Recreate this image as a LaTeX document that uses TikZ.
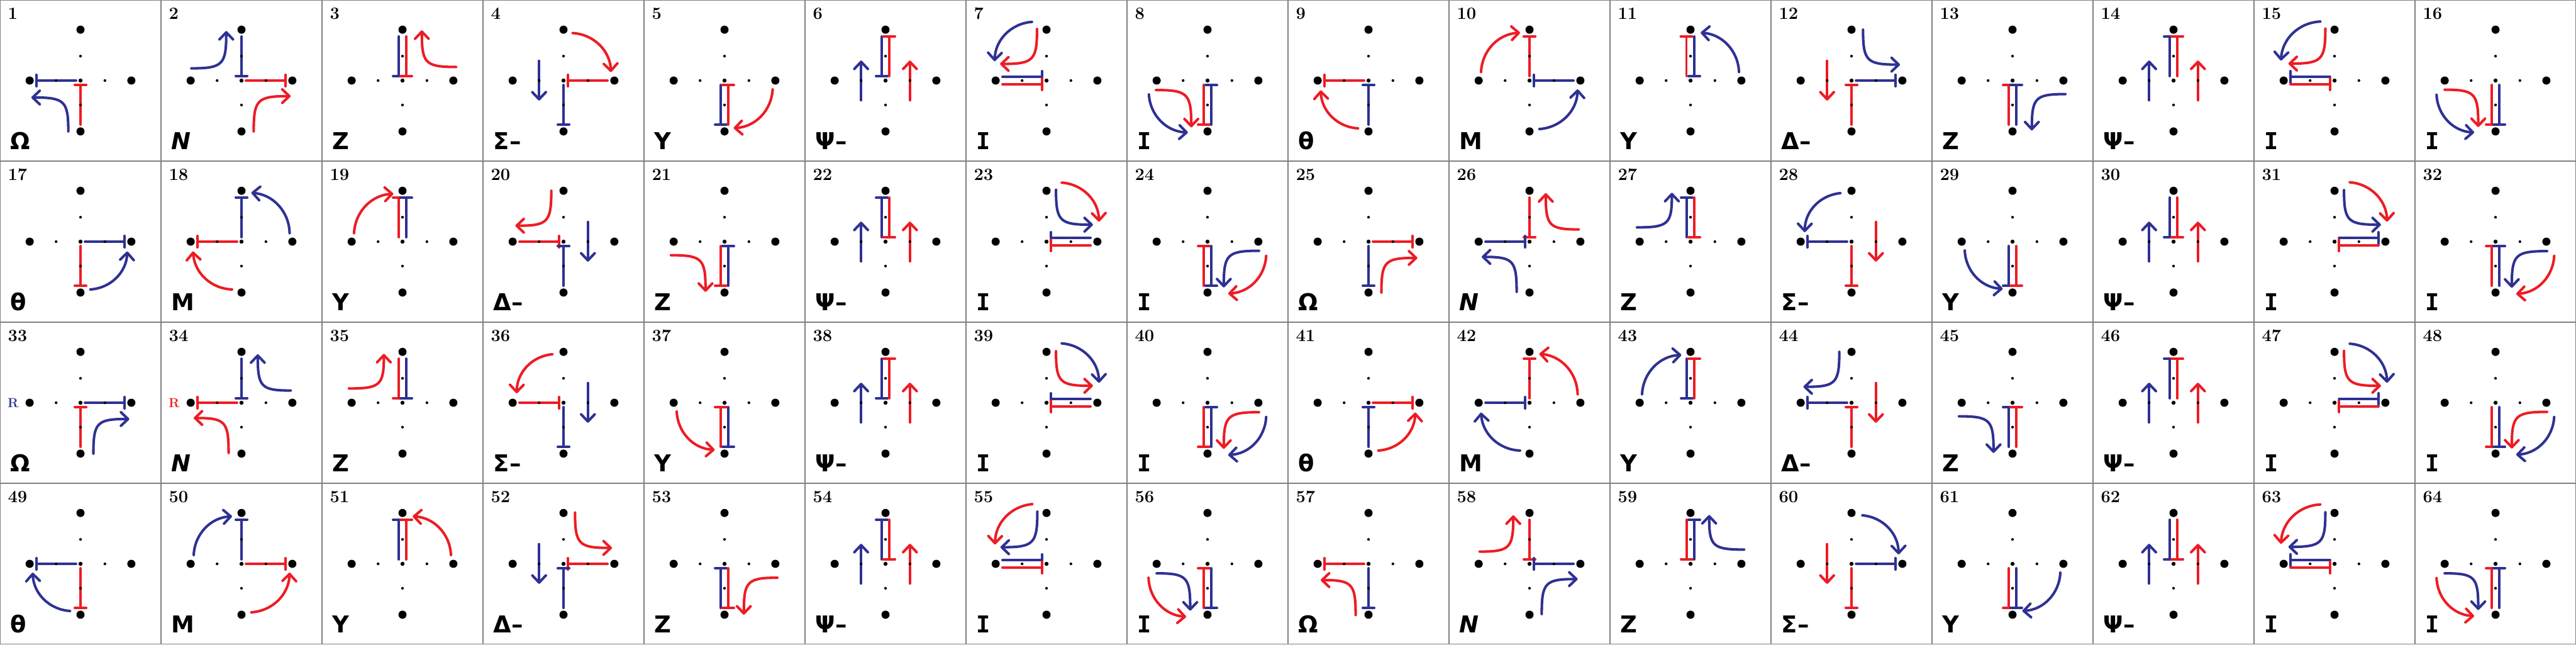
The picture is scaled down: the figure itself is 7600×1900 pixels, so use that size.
\documentclass[tikz,border=0pt]{standalone}
\usepackage{fontspec}
\usetikzlibrary{arrows.meta,calc}
\newfontfamily\lblfont{DejaVu Sans}
\newfontfamily\lblmono{DejaVu Sans Mono}
\definecolor{cb}{RGB}{46,49,146}
\definecolor{cr}{RGB}{237,28,36}
\tikzset{
  barline/.style={line width=0.07cm, line cap=round},
  arr/.style={line width=0.075cm, line cap=round, -{Straight Barb[length=0.21cm,width=0.40cm,round]}},
  numsty/.style={inner sep=0pt, font=\fontsize{14.4}{16}\selectfont\bfseries},
  lblsty/.style={inner sep=0pt, font=\lblfont\bfseries\fontsize{19.5}{22}\selectfont},
  rsty/.style={inner sep=0pt, font=\bfseries\fontsize{11}{12}\selectfont},
  gridline/.style={draw=gray, line width=0.025cm}
}
% bars: T-end at the last coordinate
\newcommand\vbr[4]{\draw[barline,#1] (#2,#3) -- (#2,#4);
  \draw[barline,#1] ({#2-17},#4) -- ({#2+17},#4);}
\newcommand\hbr[4]{\draw[barline,#1] (#3,#2) -- (#4,#2);
  \draw[barline,#1] (#4,{#2-17}) -- (#4,{#2+17});}
\newcommand\bNc[2]{\vbr{#1}{#2}{130}{13}}
\newcommand\bNo[2]{\vbr{#1}{#2}{13}{130}}
\newcommand\bSc[2]{\vbr{#1}{#2}{-130}{-13}}
\newcommand\bSo[2]{\vbr{#1}{#2}{-13}{-130}}
\newcommand\bEc[2]{\hbr{#1}{#2}{130}{13}}
\newcommand\bEo[2]{\hbr{#1}{#2}{13}{130}}
\newcommand\bWc[2]{\hbr{#1}{#2}{-130}{-13}}
\newcommand\bWo[2]{\hbr{#1}{#2}{-13}{-130}}
% straight arrows
\newcommand\stU[2]{\draw[arr,#1] (#2,-58) -- (#2,59);}
\newcommand\stD[2]{\draw[arr,#1] (#2,58) -- (#2,-59);}
% turn arrows
\newcommand\tuV[5]{\draw[arr,#1] (#2,#3) .. controls ($(#2,#3)!0.9!(#2,#5)$) and ($(#4,#5)!0.9!(#2,#5)$) .. (#4,#5);}
\newcommand\tuH[5]{\draw[arr,#1] (#2,#3) .. controls ($(#2,#3)!0.9!(#4,#3)$) and ($(#4,#5)!0.9!(#4,#3)$) .. (#4,#5);}
% arc arrows
\newcommand\arL[5]{\draw[arr,#1] (#2,#3) to[bend left=42] (#4,#5);}
\newcommand\arR[5]{\draw[arr,#1] (#2,#3) to[bend right=42] (#4,#5);}
\newcommand\dotset{%
  \fill (0,0) circle (6);
  \foreach \p in {(72,0),(-72,0),(0,72),(0,-72)} \fill \p circle (4);
  \foreach \p in {(150,0),(-150,0),(0,150),(0,-150)} \fill \p circle (12);}
\newcommand\cell[3]{%
  \pgfmathsetmacro\cx{475*mod(#1-1,16)+237.5}%
  \pgfmathsetmacro\cy{-(475*floor((#1-1)/16)+237.5)}%
  \begin{scope}[shift={(\cx,\cy)}]
    #3
    \dotset
    \node[numsty,anchor=base west] (n#1) at (-215,181) {\oldstylenums{#1}};
    \node[lblsty,anchor=base west] (t#1) at (-207,-203) {#2};
  \end{scope}}
\newcommand\Ilab{{\lblmono I}}
\begin{document}
\begin{tikzpicture}[x=0.01cm,y=0.01cm]
\useasboundingbox (0,0) rectangle (7600,-1900);
\fill[white] (0,0) rectangle (7600,-1900);
\foreach \i in {1,...,15} \draw[gridline] (475*\i,0) -- (475*\i,-1900);
\foreach \j in {1,2,3} \draw[gridline] (0,-475*\j) -- (7600,-475*\j);
\draw[gridline] (1.25,-1.25) rectangle (7598.75,-1898.75);
% row 1
\cell{1}{Ω}{\bWo{cb}{0}\bSc{cr}{0}\tuV{cb}{-36}{-150}{-145}{-50}}
\cell{2}{\itshape N}{\bNc{cb}{0}\bEo{cr}{0}\tuH{cb}{-148}{36}{-45}{146}\tuV{cr}{36}{-150}{145}{-46}}
\cell{3}{Z}{\bNc{cb}{-11}\bNc{cr}{11}\tuH{cr}{158}{40}{57}{148}}
\cell{4}{Σ–}{\bEc{cr}{0}\bSo{cb}{0}\arL{cr}{27}{140}{140}{25}\stD{cb}{-72}}
\cell{5}{Y}{\bSo{cb}{-11}\bSc{cr}{11}\arL{cr}{142}{-26}{27}{-140}}
\cell{6}{Ψ–}{\bNc{cb}{-11}\bNo{cr}{11}\stU{cb}{-72}\stU{cr}{72}}
\cell{7}{\Ilab}{\bWc{cb}{11}\bWc{cr}{-11}\arR{cb}{-43}{173}{-153}{57}\tuV{cr}{-28}{152}{-137}{49}}
\cell{8}{\Ilab}{\bSo{cr}{-11}\bSc{cb}{11}\tuH{cr}{-152}{-28}{-48}{-138}\arR{cb}{-173}{-41}{-58}{-153}}
\cell{9}{θ}{\bWo{cr}{0}\bSc{cb}{0}\arL{cr}{-31}{-141}{-141}{-29}}
\cell{10}{M}{\bNo{cr}{0}\bEc{cb}{0}\arL{cr}{-143}{25}{-28}{141}\arR{cb}{29}{-143}{142}{-26}}
\cell{11}{Y}{\bNo{cr}{-12}\bNc{cb}{11}\arR{cb}{143}{25}{30}{141}}
\cell{12}{Δ–}{\bEo{cb}{0}\bSc{cr}{0}\tuV{cb}{34}{150}{143}{47}\stD{cr}{-72}}
\cell{13}{Z}{\bSc{cr}{-11}\bSc{cb}{11}\tuH{cb}{156}{-40}{57}{-147}}
\cell{14}{Ψ–}{\bNo{cb}{-11}\bNo{cr}{11}\stU{cb}{-72}\stU{cr}{72}}
\cell{15}{\Ilab}{\bWo{cb}{11}\bWc{cr}{-11}\arR{cb}{-42}{174}{-158}{59}\tuV{cr}{-27}{153}{-136}{50}}
\cell{16}{\Ilab}{\bSo{cr}{-11}\bSo{cb}{11}\tuH{cr}{-150}{-27}{-51}{-137}\arR{cb}{-174}{-42}{-63}{-153}}
% row 2
\cell{17}{θ}{\bEo{cb}{0}\bSo{cr}{0}\arR{cb}{29}{-141}{138}{-29}}
\cell{18}{M}{\bNo{cb}{0}\bWo{cr}{0}\arR{cb}{142}{25}{29}{144}\arL{cr}{-28}{-141}{-143}{-29}}
\cell{19}{Y}{\bNo{cr}{-11}\bNo{cb}{11}\arL{cr}{-143}{25}{-27}{141}}
\cell{20}{Δ–}{\bWc{cr}{0}\bSc{cb}{0}\tuV{cr}{-36}{150}{-142}{47}\stD{cb}{72}}
\cell{21}{Z}{\bSo{cr}{-11}\bSc{cb}{11}\tuH{cr}{-158}{-40}{-56}{-148}}
\cell{22}{Ψ–}{\bNo{cb}{-11}\bNc{cr}{11}\stU{cb}{-72}\stU{cr}{72}}
\cell{23}{\Ilab}{\bEc{cb}{11}\bEc{cr}{-11}\tuV{cb}{28}{153}{137}{50}\arL{cr}{45}{174}{155}{59}}
\cell{24}{\Ilab}{\bSc{cr}{-11}\bSo{cb}{11}\tuH{cb}{152}{-27}{48}{-135}\arL{cr}{173}{-42}{61}{-153}}
\cell{25}{Ω}{\bEo{cr}{0}\bSo{cb}{0}\tuV{cr}{38}{-150}{144}{-48}}
\cell{26}{\itshape N}{\bNc{cr}{0}\bWc{cb}{0}\tuH{cr}{145}{36}{48}{143}\tuV{cb}{-38}{-148}{-141}{-45}}
\cell{27}{Z}{\bNo{cb}{-11}\bNc{cr}{11}\tuH{cb}{-158}{42}{-55}{144}}
\cell{28}{Σ–}{\bWo{cb}{0}\bSo{cr}{0}\arR{cb}{-33}{143}{-138}{28}\stD{cr}{72}}
\cell{29}{Y}{\bSo{cb}{-11}\bSo{cr}{11}\arR{cb}{-141}{-26}{-29}{-139}}
\cell{30}{Ψ–}{\bNc{cb}{-11}\bNc{cr}{11}\stU{cb}{-72}\stU{cr}{72}}
\cell{31}{\Ilab}{\bEo{cb}{11}\bEc{cr}{-11}\tuV{cb}{28}{152}{137}{50}\arL{cr}{45}{175}{155}{59}}
\cell{32}{\Ilab}{\bSc{cr}{-11}\bSc{cb}{11}\tuH{cb}{152}{-28}{48}{-136}\arL{cr}{173}{-42}{61}{-154}}
% row 3
\cell{33}{Ω}{\bEo{cb}{0}\bSc{cr}{0}\tuV{cb}{38}{-150}{144}{-48}\node[rsty,text=cb] (r33) at (-199,0) {R};}
\cell{34}{\itshape N}{\bNc{cb}{0}\bWo{cr}{0}\tuH{cb}{145}{36}{48}{143}\tuV{cr}{-38}{-148}{-141}{-45}\node[rsty,text=cr] (r34) at (-199,0) {R};}
\cell{35}{Z}{\bNc{cr}{-11}\bNc{cb}{11}\tuH{cr}{-158}{42}{-55}{144}}
\cell{36}{Σ–}{\bWc{cr}{0}\bSo{cb}{0}\arR{cr}{-33}{143}{-138}{28}\stD{cb}{72}}
\cell{37}{Y}{\bSc{cr}{-11}\bSo{cb}{11}\arR{cr}{-141}{-26}{-29}{-139}}
\cell{38}{Ψ–}{\bNc{cb}{-11}\bNo{cr}{11}\stU{cb}{-72}\stU{cr}{72}}
\cell{39}{\Ilab}{\bEc{cb}{11}\bEc{cr}{-11}\tuV{cr}{28}{152}{137}{50}\arL{cb}{45}{175}{155}{59}}
\cell{40}{\Ilab}{\bSo{cr}{-11}\bSc{cb}{11}\tuH{cr}{152}{-28}{48}{-136}\arL{cb}{173}{-42}{61}{-154}}
\cell{41}{θ}{\bEo{cr}{0}\bSc{cb}{0}\arR{cr}{29}{-141}{138}{-29}}
\cell{42}{M}{\bNo{cr}{0}\bWc{cb}{0}\arR{cr}{142}{25}{29}{144}\arL{cb}{-28}{-141}{-143}{-29}}
\cell{43}{Y}{\bNc{cb}{-11}\bNo{cr}{11}\arL{cb}{-143}{25}{-27}{141}}
\cell{44}{Δ–}{\bWo{cb}{0}\bSc{cr}{0}\tuV{cb}{-36}{150}{-142}{47}\stD{cr}{72}}
\cell{45}{Z}{\bSc{cb}{-11}\bSc{cr}{11}\tuH{cb}{-158}{-40}{-56}{-148}}
\cell{46}{Ψ–}{\bNo{cb}{-11}\bNo{cr}{11}\stU{cb}{-72}\stU{cr}{72}}
\cell{47}{\Ilab}{\bEo{cb}{11}\bEc{cr}{-11}\tuV{cr}{28}{153}{137}{50}\arL{cb}{45}{174}{155}{59}}
\cell{48}{\Ilab}{\bSo{cr}{-11}\bSo{cb}{11}\tuH{cr}{152}{-27}{48}{-135}\arL{cb}{173}{-42}{61}{-153}}
% row 4
\cell{49}{θ}{\bWo{cb}{0}\bSo{cr}{0}\arL{cb}{-31}{-139}{-141}{-26}}
\cell{50}{M}{\bNo{cb}{0}\bEo{cr}{0}\arL{cb}{-141}{26}{-28}{140}\arR{cr}{29}{-143}{142}{-26}}
\cell{51}{Y}{\bNo{cb}{-11}\bNo{cr}{11}\arR{cr}{143}{26}{30}{140}}
\cell{52}{Δ–}{\bEc{cr}{0}\bSc{cb}{0}\tuV{cr}{34}{151}{143}{47}\stD{cb}{-72}}
\cell{53}{Z}{\bSc{cb}{-11}\bSo{cr}{11}\tuH{cr}{156}{-41}{57}{-150}}
\cell{54}{Ψ–}{\bNo{cb}{-11}\bNc{cr}{11}\stU{cb}{-72}\stU{cr}{72}}
\cell{55}{\Ilab}{\bWc{cb}{11}\bWc{cr}{-11}\arR{cr}{-42}{176}{-152}{57}\tuV{cb}{-27}{154}{-136}{49}}
\cell{56}{\Ilab}{\bSc{cr}{-11}\bSo{cb}{11}\tuH{cb}{-150}{-28}{-51}{-138}\arR{cr}{-174}{-41}{-63}{-156}}
\cell{57}{Ω}{\bWo{cr}{0}\bSo{cb}{0}\tuV{cr}{-38}{-151}{-141}{-48}}
\cell{58}{\itshape N}{\bNc{cr}{0}\bEc{cb}{0}\tuH{cr}{-147}{36}{-48}{143}\tuV{cb}{36}{-148}{142}{-45}}
\cell{59}{Z}{\bNc{cr}{-11}\bNo{cb}{11}\tuH{cb}{158}{42}{55}{144}}
\cell{60}{Σ–}{\bEo{cb}{0}\bSo{cr}{0}\arL{cb}{32}{143}{139}{28}\stD{cr}{-72}}
\cell{61}{Y}{\bSo{cr}{-11}\bSo{cb}{11}\arL{cb}{141}{-26}{29}{-139}}
\cell{62}{Ψ–}{\bNc{cb}{-11}\bNc{cr}{11}\stU{cb}{-72}\stU{cr}{72}}
\cell{63}{\Ilab}{\bWo{cb}{11}\bWc{cr}{-11}\arR{cr}{-42}{175}{-158}{59}\tuV{cb}{-27}{152}{-136}{50}}
\cell{64}{\Ilab}{\bSc{cr}{-11}\bSc{cb}{11}\tuH{cb}{-150}{-28}{-51}{-136}\arR{cr}{-174}{-42}{-63}{-154}}
\end{tikzpicture}
\end{document}
